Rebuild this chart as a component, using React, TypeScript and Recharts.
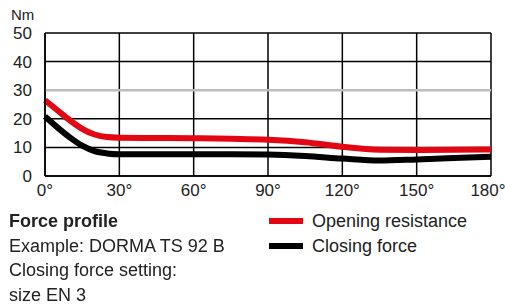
import { LineChart, Line, XAxis, YAxis, CartesianGrid, ReferenceLine } from 'recharts';

const angles = [0, 5, 10, 15, 20, 25, 30, 45, 60, 75, 90, 105, 120, 135, 150, 165, 180];
const openingResistance = [26.5, 23, 19.5, 16.5, 14.5, 13.6, 13.4, 13.3, 13.2, 13, 12.7, 11.8, 10.2, 9.2, 9.1, 9.2, 9.3];
const closingForce = [20.8, 17, 13.5, 10.6, 8.7, 7.9, 7.6, 7.6, 7.6, 7.6, 7.5, 7, 6.1, 5.4, 5.8, 6.3, 6.7];
const xTicks = [0, 30, 60, 90, 120, 150, 180];
const yTicks = [0, 10, 20, 30, 40, 50];
const captionLines = ['Example: DORMA TS 92 B', 'Closing force setting:', 'size EN 3'];

const series = [
  { key: 'opening', name: 'Opening resistance', color: '#e30613' },
  { key: 'closing', name: 'Closing force', color: '#000000' },
];

const data = angles.map((a, i) => ({
  angle: a,
  opening: openingResistance[i],
  closing: closingForce[i],
}));

const font = '"Liberation Sans", Arial, sans-serif';
const tick = { fontSize: 17, fill: '#222', fontFamily: font };

// last label sits on the page edge, nudge it in a little so it isn't cut
function AngleTick(props: any) {
  const { x, y, payload } = props;
  const shift = payload.value === 180 ? -3 : 0;
  return (
    <text x={x + shift} y={y} dy="0.71em" textAnchor="middle" {...tick}>
      {`${payload.value}°`}
    </text>
  );
}

export default function App() {
  return (
    <div style={{ position: 'fixed', left: 0, top: 0, width: 505, height: 304, background: '#fff', fontFamily: font, color: '#222' }}>
      <div style={{ position: 'absolute', left: 11, top: 6, fontSize: 15 }}>Nm</div>
      <LineChart width={505} height={210} data={data} margin={{ top: 33, right: 14, left: 0, bottom: 4 }}>
        <CartesianGrid stroke="#000" strokeWidth={1.5} />
        <ReferenceLine y={30} stroke="#bdbdbd" strokeWidth={2.5} />
        <XAxis
          dataKey="angle"
          type="number"
          domain={[0, 180]}
          ticks={xTicks}
          tick={<AngleTick />}
          tickLine={false}
          tickSize={6}
          tickMargin={2}
          axisLine={{ stroke: '#000', strokeWidth: 1.5 }}
          height={30}
          interval={0}
        />
        <YAxis
          type="number"
          domain={[0, 50]}
          ticks={yTicks}
          tick={tick}
          tickLine={false}
          tickSize={6}
          tickMargin={7}
          axisLine={{ stroke: '#000', strokeWidth: 1.5 }}
          width={45}
          interval={0}
        />
        {series.map((s) => (
          <Line
            key={s.key}
            type="monotone"
            dataKey={s.key}
            name={s.name}
            stroke={s.color}
            strokeWidth={6}
            dot={false}
            isAnimationActive={false}
          />
        ))}
      </LineChart>
      <div style={{ position: 'absolute', left: 9, top: 209, fontSize: 18, lineHeight: '24.5px' }}>
        <div style={{ fontWeight: 'bold' }}>Force profile</div>
        {captionLines.map((l) => (
          <div key={l}>{l}</div>
        ))}
      </div>
      <div style={{ position: 'absolute', left: 269, top: 209, fontSize: 18, lineHeight: '24.5px' }}>
        {series.map((s) => (
          <div key={s.key} style={{ display: 'flex', alignItems: 'center' }}>
            <span style={{ display: 'inline-block', width: 34, height: 6, background: s.color, marginRight: 9 }} />
            {s.name}
          </div>
        ))}
      </div>
    </div>
  );
}
